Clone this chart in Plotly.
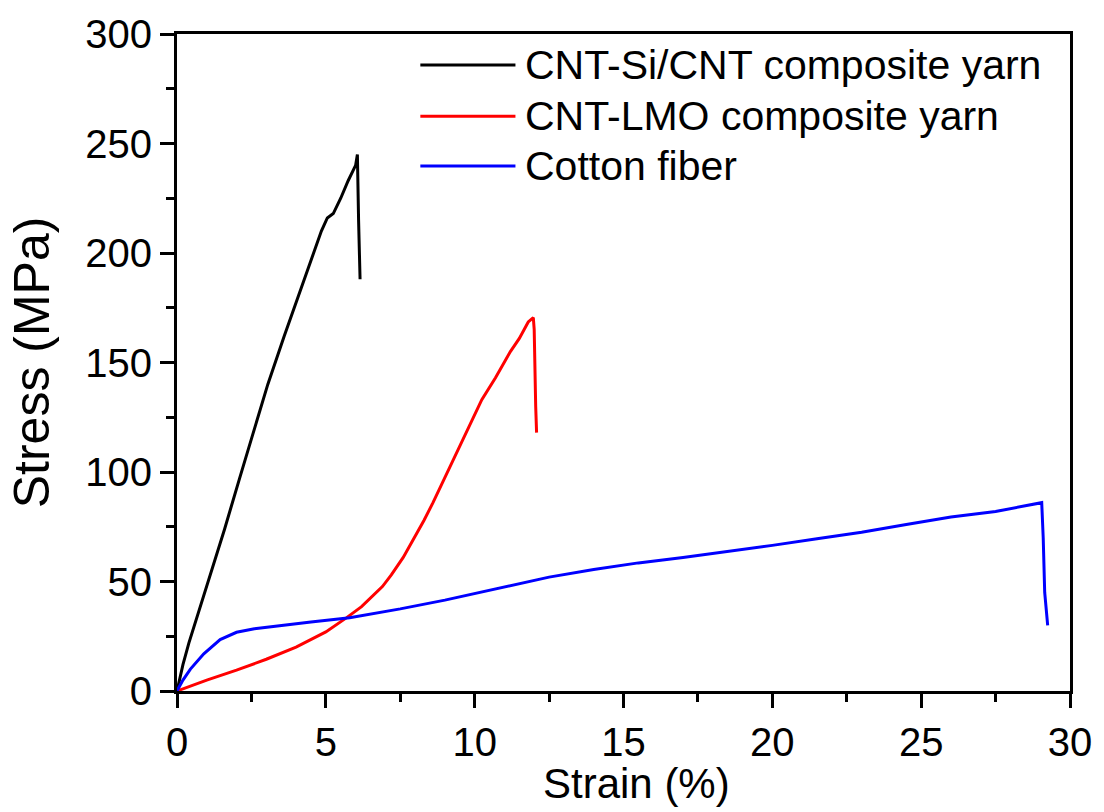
import plotly.graph_objects as go

# ---- data ----
si_strain = [0, 0.2, 0.4, 0.7, 1.1, 1.6, 2.1, 2.6, 3.05, 3.6, 4.1, 4.5, 4.85, 5.05, 5.25, 5.5, 5.75, 6.0, 6.06, 6.1, 6.15]
si_stress = [0, 12, 22, 35, 52, 74, 97, 120, 140, 162, 181, 197, 210, 216, 218, 225, 233, 240, 245, 215, 188]

lmo_strain = [0, 1, 2, 3, 4, 5, 5.7, 6.2, 6.9, 7.2, 7.6, 8.0, 8.3, 8.6, 9.13, 9.6, 10.24, 10.7, 11.2, 11.5, 11.8, 11.97, 12.0, 12.05, 12.08]
lmo_stress = [0, 5, 9.5, 14.5, 20, 27, 33.5, 38.5, 47.7, 53, 61, 70.6, 78, 86, 101, 115, 133, 143, 155, 161, 168.5, 170.5, 165, 130, 118]

cot_strain = [0, 0.2, 0.45, 0.9, 1.45, 2.0, 2.6, 3.5, 4.5, 5.8, 7.5, 9, 10.5, 12.5, 14, 15.5, 17, 18.5,
              20, 21.5, 23, 24.5, 26, 27.5, 28.5, 29.05, 29.1, 29.15, 29.25]
cot_stress = [0, 5, 10, 17, 23.5, 26.8, 28.4, 30, 31.5, 33.5, 37.5, 41.5, 46, 52, 55.5, 58.5, 61, 63.7,
              66.5, 69.5, 72.5, 76, 79.5, 82, 84.5, 86, 70, 45, 30]

names = ["CNT-Si/CNT composite yarn", "CNT-LMO composite yarn", "Cotton fiber"]
colors = ["#000000", "#ff0000", "#0000ff"]
series = [(si_strain, si_stress), (lmo_strain, lmo_stress), (cot_strain, cot_stress)]

FONT = "Liberation Sans, Arial, sans-serif"

fig = go.Figure()
for (xs, ys), n, c in zip(series, names, colors):
    fig.add_trace(go.Scatter(x=xs, y=ys, mode="lines", name=n,
                             line=dict(color=c, width=3), showlegend=False))

# custom legend (long line samples like the original)
leg_y = [0.953, 0.875, 0.799]
for n, c, yy in zip(names, colors, leg_y):
    fig.add_shape(type="line", xref="paper", yref="paper",
                  x0=0.2725, x1=0.379, y0=yy, y1=yy,
                  line=dict(color=c, width=3))
    fig.add_annotation(xref="paper", yref="paper", x=0.387, y=yy, text=n,
                       showarrow=False, xanchor="left", yanchor="middle",
                       font=dict(family=FONT, size=41, color="black"))

# axis titles placed as text to match the original position
fig.add_annotation(xref="paper", yref="paper", x=(639 - 177) / 898, y=-0.141,
                   text="Strain (%)", showarrow=False, xanchor="center", yanchor="middle",
                   font=dict(family=FONT, size=42, color="black"))
fig.add_annotation(xref="paper", yref="paper", x=-(177 - 31) / 898, y=0.5,
                   text="Stress (MPa)", showarrow=False, textangle=-90,
                   xanchor="center", yanchor="middle",
                   font=dict(family=FONT, size=50, color="black"))

axis_common = dict(
    showline=True, linecolor="black", linewidth=3, mirror=True,
    ticks="outside", ticklen=14, tickwidth=3, tickcolor="black",
    showgrid=False, zeroline=False,
    tickfont=dict(family=FONT, size=40, color="black"),
)

fig.update_xaxes(range=[0, 30], dtick=5, tick0=0,
                 minor=dict(ticks="outside", ticklen=8, tickwidth=3, tickcolor="black", dtick=2.5),
                 **axis_common)
fig.update_yaxes(range=[0, 300], dtick=50, tick0=0,
                 minor=dict(ticks="outside", ticklen=8, tickwidth=3, tickcolor="black", dtick=25),
                 **axis_common)

fig.update_layout(
    width=1104, height=812,
    margin=dict(l=177, r=29, t=34, b=121),
    paper_bgcolor="white", plot_bgcolor="white",
    font=dict(family=FONT, color="black"),
)

fig.write_html("out.html")
